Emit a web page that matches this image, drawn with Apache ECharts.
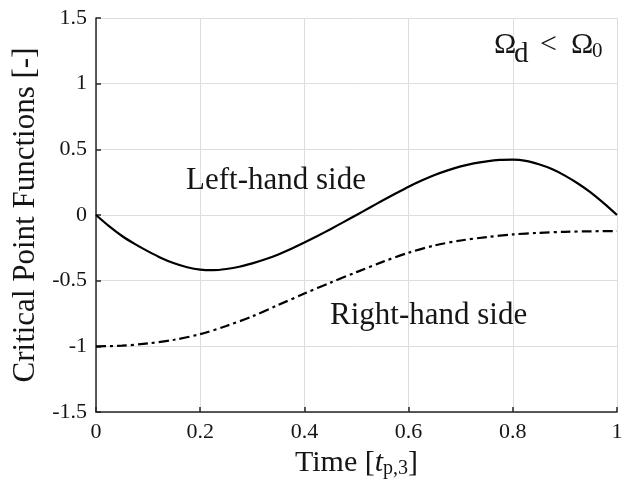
<!DOCTYPE html>
<html>
<head>
<meta charset="utf-8">
<script src="https://cdn.jsdelivr.net/npm/echarts@6/dist/echarts.min.js"></script>
<style>
html,body{margin:0;padding:0;background:#fff;}
#c{width:622px;height:488px;}
</style>
</head>
<body>
<div id="c"></div>
<script>
// ---- data ----
var timeLeft = [0,0.025,0.05,0.075,0.1,0.125,0.15,0.175,0.2,0.225,0.25,0.275,0.3,0.325,0.35,0.375,0.4,0.425,0.45,0.475,0.5,0.525,0.55,0.575,0.6,0.625,0.65,0.675,0.7,0.725,0.75,0.775,0.8,0.825,0.85,0.875,0.9,0.925,0.95,0.975,1.0];
var leftHandSide = [0,-0.085,-0.16,-0.222,-0.277,-0.327,-0.368,-0.398,-0.416,-0.42,-0.411,-0.394,-0.368,-0.337,-0.300,-0.257,-0.21,-0.16,-0.108,-0.054,0.0,0.055,0.11,0.163,0.215,0.262,0.305,0.34,0.37,0.393,0.409,0.419,0.421,0.412,0.386,0.35,0.30,0.24,0.17,0.088,0];
var timeRight = [0,0.05,0.1,0.15,0.2,0.25,0.3,0.35,0.4,0.45,0.5,0.55,0.6,0.65,0.7,0.75,0.8,0.85,0.9,0.95,1.0];
var rightHandSide = [-1.0,-0.995,-0.978,-0.95,-0.907,-0.845,-0.772,-0.685,-0.598,-0.515,-0.435,-0.357,-0.287,-0.232,-0.194,-0.168,-0.148,-0.136,-0.128,-0.124,-0.122];
var xTickLabels = ['0','0.2','0.4','0.6','0.8','1'];
var yTickLabels = ['-1.5','-1','-0.5','0','0.5','1','1.5'];
var seriesNames = ['Left-hand side','Right-hand side'];

function pairs(xs, ys){ return xs.map(function(x,i){ return [x, ys[i]]; }); }

var FONT = '"Liberation Serif", "Times New Roman", serif';
var axisColor = '#262626';
var gridColor = '#dedede';
var textColor = '#151515';

var chart = echarts.init(document.getElementById('c'), null, {renderer:'canvas'});
var xMin = parseFloat(xTickLabels[0]), xMax = parseFloat(xTickLabels[xTickLabels.length-1]);
var yMin = parseFloat(yTickLabels[0]), yMax = parseFloat(yTickLabels[yTickLabels.length-1]);

function txt(s, left, top, size){
  return {type: 'text', left: left, top: top, z: 100,
    style: {text: s, font: size + 'px ' + FONT, fill: textColor}};
}

var option = {
  animation: false,
  backgroundColor: '#ffffff',
  grid: {left: 96, right: 5, top: 18, bottom: 76, containLabel: false, outerBoundsMode: 'none'},
  xAxis: {
    type: 'value', min: xMin, max: xMax, interval: 0.2,
    name: '{a|Time [}{t|t}{s|p,3}{a|]}',
    nameLocation: 'middle', nameGap: 35,
    nameTextStyle: {
      fontFamily: FONT, color: textColor,
      rich: {
        a: {fontFamily: FONT, fontSize: 30, color: textColor, lineHeight: 30, verticalAlign: 'top'},
        t: {fontFamily: FONT, fontSize: 30, fontStyle: 'italic', color: textColor, lineHeight: 30, verticalAlign: 'top'},
        s: {fontFamily: FONT, fontSize: 20, color: textColor, lineHeight: 31, verticalAlign: 'bottom'}
      }
    },
    axisLine: {show: true, onZero: false, lineStyle: {color: axisColor, width: 1.5}},
    axisTick: {show: true, inside: true, length: 5, lineStyle: {color: axisColor, width: 1.5}},
    axisLabel: {fontFamily: FONT, fontSize: 22, color: textColor, margin: 9,
      formatter: function(v){ var i = Math.round((v - xMin)/0.2); return xTickLabels[i] || ''; }},
    splitLine: {show: true, lineStyle: {color: gridColor, width: 1}}
  },
  yAxis: {
    type: 'value', min: yMin, max: yMax, interval: 0.5,
    name: 'Critical Point Functions [-]',
    nameLocation: 'middle', nameGap: 53,
    nameTextStyle: {fontFamily: FONT, fontSize: 31, color: textColor},
    axisLine: {show: true, onZero: false, lineStyle: {color: axisColor, width: 1.5}},
    axisTick: {show: true, inside: true, length: 5, lineStyle: {color: axisColor, width: 1.5}},
    axisLabel: {fontFamily: FONT, fontSize: 22, color: textColor, margin: 9,
      formatter: function(v){ var i = Math.round((v - yMin)/0.5); return yTickLabels[i] || ''; }},
    splitLine: {show: true, lineStyle: {color: gridColor, width: 1}}
  },
  series: [
    {
      name: seriesNames[0], type: 'line', data: pairs(timeLeft, leftHandSide),
      smooth: 0.2, showSymbol: false, symbol: 'none',
      lineStyle: {color: '#000', width: 2.2, type: 'solid'}
    },
    {
      name: seriesNames[1], type: 'line', data: pairs(timeRight, rightHandSide),
      smooth: 0.3, showSymbol: false, symbol: 'none',
      lineStyle: {color: '#000', width: 2.2, type: [10, 4, 3, 4]}
    }
  ],
  graphic: [
    txt(seriesNames[0], 186, 165, 31),
    txt(seriesNames[1], 330, 300, 31),
    txt('Ω', 494, 30, 30),
    txt('d', 514, 40, 29),
    txt('<', 540, 30, 30),
    txt('Ω', 571, 30, 30),
    txt('0', 592, 41, 21)
  ]
};
chart.setOption(option);
</script>
</body>
</html>
